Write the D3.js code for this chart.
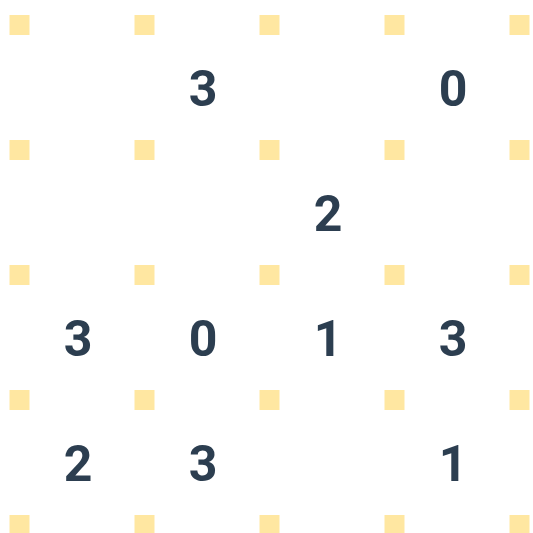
<!DOCTYPE html>
<html>
<head>
<meta charset="utf-8">
<script src="https://cdn.jsdelivr.net/npm/d3@7"></script>
<style>
  body { margin: 0; background: #fff; }
  svg { display: block; }
  .clue { font-family: Roboto, sans-serif; font-weight: 700; font-size: 50px; fill: #2c3e50; }
</style>
</head>
<body>
<svg id="chart" width="533" height="533"></svg>
<script>
// puzzle clues, row by row (null = empty cell)
const rows = [0, 1, 2, 3];
const cols = [0, 1, 2, 3];
const clues = [
    [null, 3, null, 0],
    [null, null, 2, null],
    [3, 0, 1, 3],
    [2, 3, null, 1]
];

const svg = d3.select('#chart');

let x = d3.scaleLinear().domain([0, 4]).range([19.5, 519.5]);
let y = d3.scaleLinear().domain([0, 4]).range([25, 525]);

/////dots/////
let dotData = d3.range(5).flatMap(r => d3.range(5).map(c => ({r, c})));
let dotSize = 20;
svg.append('g').classed('dots', true)
    .selectAll('rect').data(dotData).enter().append('rect')
    .attr('x', d => x(d.c) - dotSize / 2)
    .attr('y', d => y(d.r) - dotSize / 2)
    .attr('width', dotSize)
    .attr('height', dotSize)
    .attr('fill', '#ffe7a1');

/////numbers/////
let cellData = rows.flatMap(r => cols.map(c => ({r, c, v: clues[r][c]}))).filter(d => d.v !== null);
svg.append('g').classed('clues', true)
    .selectAll('text').data(cellData).enter().append('text')
    .classed('clue', true)
    .attr('x', d => x(d.c + 0.5) - 4)
    .attr('y', d => y(d.r + 0.5) + 18)
    .attr('text-anchor', 'middle')
    .text(d => d.v);
</script>
</body>
</html>
